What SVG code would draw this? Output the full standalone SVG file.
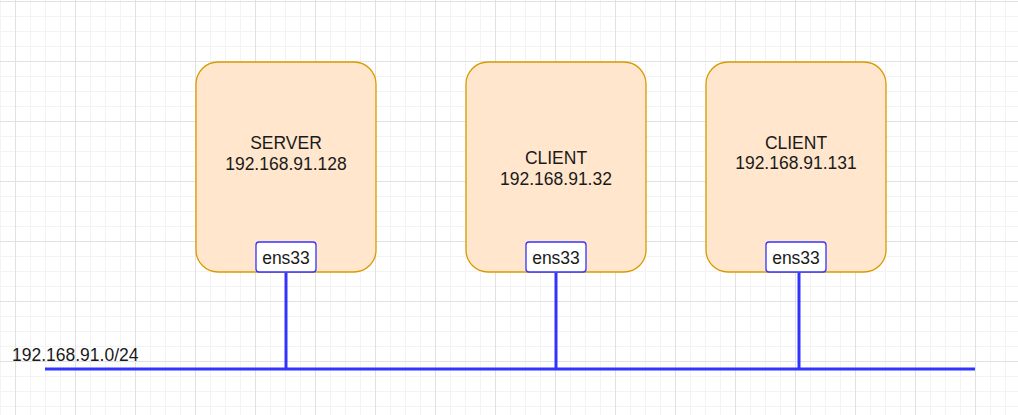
<svg xmlns="http://www.w3.org/2000/svg" width="1018" height="415" viewBox="0 0 1018 415">
<defs>
<pattern id="minor" x="0" y="1" width="15" height="15" patternUnits="userSpaceOnUse">
<path d="M0 0.5H15M0.5 0V15" stroke="#f3f3f3" stroke-width="1" fill="none"/>
</pattern>
<pattern id="major" x="15" y="1" width="60" height="60" patternUnits="userSpaceOnUse">
<path d="M0 0.5H60M0.5 0V60" stroke="#e1e1e1" stroke-width="1" fill="none"/>
</pattern>
</defs>
<style>
.host{fill:#ffe6cc;stroke:#d79b00;stroke-width:1.3}
.nic{fill:#ffffff;stroke:#3333ff;stroke-width:1.3}
.t{font-family:"Liberation Sans",Arial,sans-serif;font-size:17.5px;fill:#1a1a1a;text-anchor:middle}
.wire{stroke:#3333ff;stroke-width:3;fill:none}
</style>
<rect width="1018" height="415" fill="#ffffff"/>
<rect width="1018" height="415" fill="url(#minor)"/>
<rect width="1018" height="415" fill="url(#major)"/>
<g id="connectors">
<path class="wire" d="M286 272V369"/>
<path class="wire" d="M556 272V369"/>
<path class="wire" d="M799 272V369"/>
<path class="wire" d="M45 369H975"/>
</g>
<g id="server">
<rect class="host" x="196" y="62" width="180" height="210" rx="22"/>
<text class="t" x="286" y="149">SERVER</text>
<text class="t" x="286" y="170">192.168.91.128</text>
</g>
<g id="server-nic">
<rect class="nic" x="256" y="242" width="60" height="30" rx="3"/>
<text class="t" x="286" y="264">ens33</text>
</g>
<g id="client1">
<rect class="host" x="466" y="62" width="180" height="210" rx="22"/>
<text class="t" x="556" y="164">CLIENT</text>
<text class="t" x="556" y="185">192.168.91.32</text>
</g>
<g id="client1-nic">
<rect class="nic" x="526" y="242" width="60" height="30" rx="3"/>
<text class="t" x="556" y="264">ens33</text>
</g>
<g id="client2">
<rect class="host" x="706" y="62" width="180" height="210" rx="22"/>
<text class="t" x="796" y="149">CLIENT</text>
<text class="t" x="796" y="169">192.168.91.131</text>
</g>
<g id="client2-nic">
<rect class="nic" x="766" y="242" width="60" height="30" rx="3"/>
<text class="t" x="796" y="264">ens33</text>
</g>
<g id="subnet-label">
<text class="t" x="12" y="361" style="text-anchor:start">192.168.91.0/24</text>
</g>
</svg>
